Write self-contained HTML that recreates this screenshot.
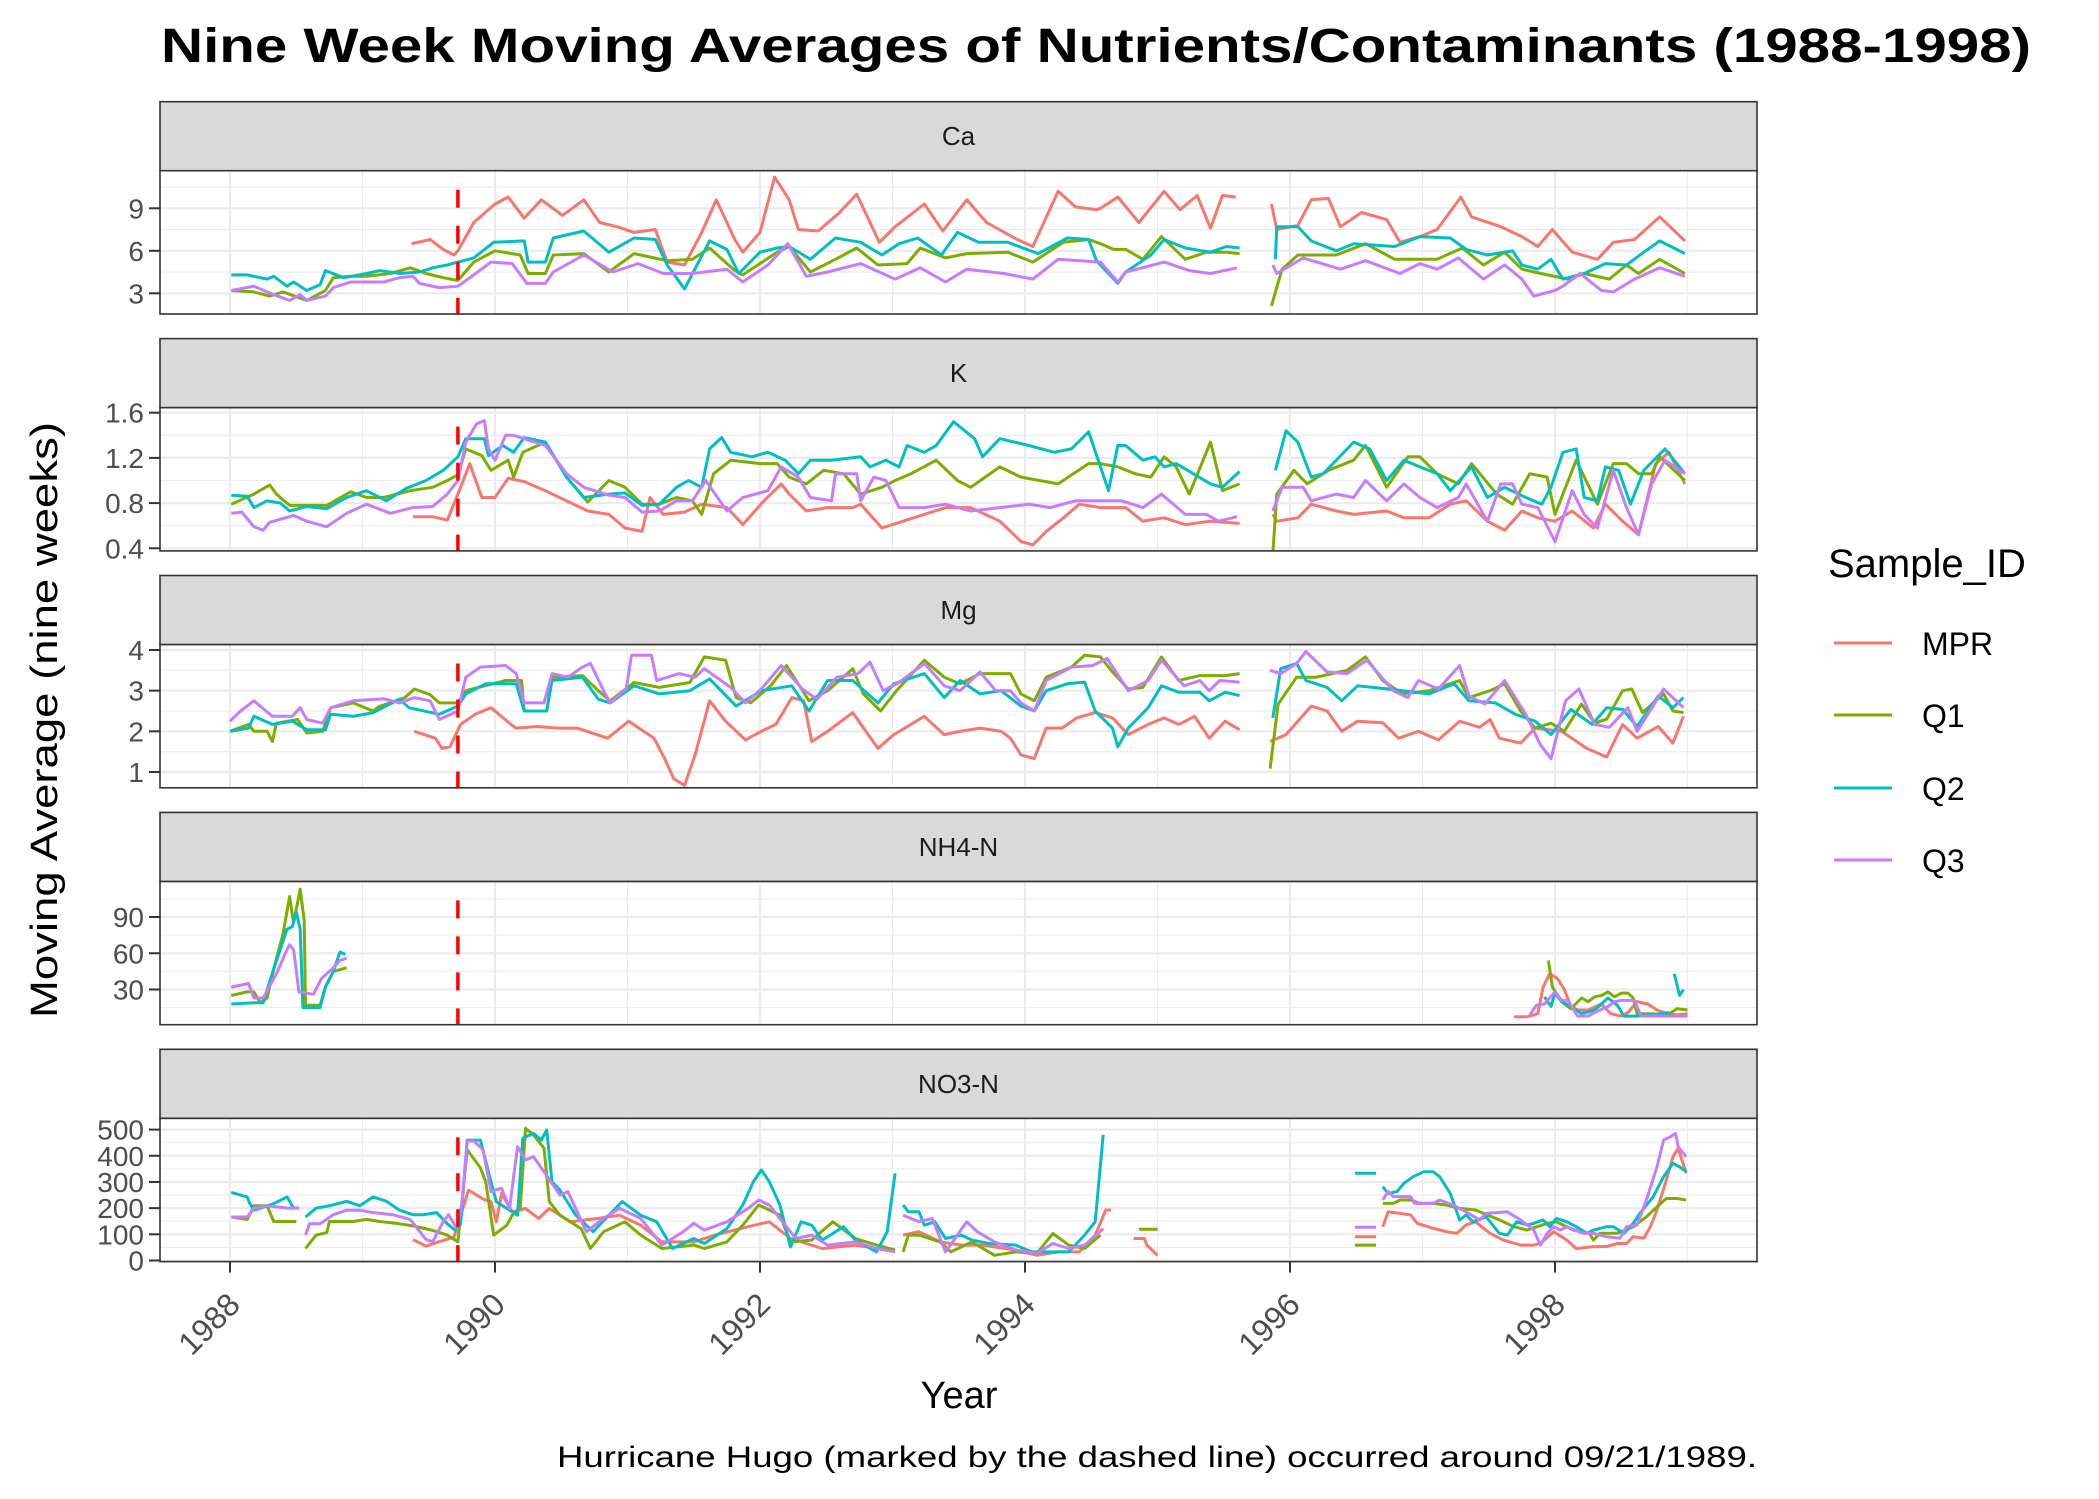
<!DOCTYPE html>
<html><head><meta charset="utf-8"><style>
html,body{margin:0;padding:0;background:#fff;}
svg{display:block;font-family:"Liberation Sans",Arial,sans-serif;}
</style></head><body>
<svg id="chart" width="2099" height="1499" viewBox="0 0 2099 1499" xmlns="http://www.w3.org/2000/svg">
<rect x="0" y="0" width="2099" height="1499" fill="#fff"/>
<text x="161" y="62" font-size="48" font-weight="bold" textLength="1870" lengthAdjust="spacingAndGlyphs">Nine Week Moving Averages of Nutrients/Contaminants (1988-1998)</text>
<text transform="translate(57,720) rotate(-90)" text-anchor="middle" font-size="38" textLength="596" lengthAdjust="spacingAndGlyphs">Moving Average (nine weeks)</text>
<text x="959" y="1408" text-anchor="middle" font-size="38">Year</text>
<text x="1757" y="1467" text-anchor="end" font-size="30" textLength="1200" lengthAdjust="spacingAndGlyphs">Hurricane Hugo (marked by the dashed line) occurred around 09/21/1989.</text>
<g id="panels"></g>
<g id="legend">
<text x="1828" y="577" font-size="40">Sample_ID</text>
<line x1="1834" y1="643" x2="1892" y2="643" stroke="#F8766D" stroke-width="3"/>
<text x="1922" y="655" font-size="32">MPR</text>
<line x1="1834" y1="715" x2="1892" y2="715" stroke="#7CAE00" stroke-width="3"/>
<text x="1922" y="727" font-size="32">Q1</text>
<line x1="1834" y1="788" x2="1892" y2="788" stroke="#00BFC4" stroke-width="3"/>
<text x="1922" y="800" font-size="32">Q2</text>
<line x1="1834" y1="860" x2="1892" y2="860" stroke="#C77CFF" stroke-width="3"/>
<text x="1922" y="872" font-size="32">Q3</text>
</g>
</svg>
<script>
const panelNames = ["Ca","K","Mg","NH4-N","NO3-N"];
const seriesNames = ["MPR","Q1","Q2","Q3"];
const seriesColors = ["#F8766D","#7CAE00","#00BFC4","#C77CFF"];
const xTickYears = [1988,1990,1992,1994,1996,1998];
const hugoYear = 1989.72;
const caTicks = [3,6,9];
const kTicks = [0.4,0.8,1.2,1.6];
const mgTicks = [1,2,3,4];
const nh4Ticks = [30,60,90];
const no3Ticks = [0,100,200,300,400,500];

const caMPR = [[1989.37,6.5],[1989.51,6.8],[1989.61,6.1],[1989.69,5.7],[1989.72,6.0],[1989.84,8.0],[1990.0,9.3],[1990.10,9.8],[1990.22,8.3],[1990.35,9.6],[1990.51,8.5],[1990.67,9.6],[1990.79,8.0],[1990.92,7.7],[1991.05,7.3],[1991.21,7.5],[1991.30,5.2],[1991.43,5.0],[1991.56,7.3],[1991.67,9.6],[1991.81,6.8],[1991.87,5.9],[1992.0,7.3],[1992.11,11.2],[1992.22,9.6],[1992.29,7.5],[1992.44,7.4],[1992.60,8.7],[1992.73,10.0],[1992.90,6.6],[1993.02,7.7],[1993.24,9.3],[1993.38,7.4],[1993.56,9.6],[1993.71,8.0],[1993.94,6.8],[1994.06,6.3],[1994.25,10.2],[1994.38,9.1],[1994.54,8.9],[1994.57,9.0],[1994.70,9.8],[1994.86,8.0],[1995.05,10.2],[1995.17,8.9],[1995.30,9.9],[1995.40,7.6],[1995.49,9.9],[1995.59,9.8],null,[1995.86,9.3],[1995.90,7.5],[1996.06,7.8],[1996.16,9.6],[1996.29,9.7],[1996.38,7.7],[1996.54,8.7],[1996.73,8.2],[1996.83,6.6],[1996.98,7.0],[1997.11,7.5],[1997.29,9.8],[1997.37,8.4],[1997.59,7.7],[1997.75,7.0],[1997.87,6.3],[1997.98,7.5],[1998.13,5.9],[1998.32,5.4],[1998.44,6.6],[1998.60,6.8],[1998.79,8.4],[1998.98,6.7]];
const caQ1 = [[1988.01,3.2],[1988.18,3.1],[1988.30,2.8],[1988.40,3.1],[1988.58,2.5],[1988.72,3.2],[1988.78,4.1],[1988.91,4.2],[1989.03,4.2],[1989.21,4.4],[1989.36,4.8],[1989.48,4.4],[1989.61,4.1],[1989.72,3.9],[1989.84,5.2],[1990.0,6.0],[1990.19,5.7],[1990.25,4.4],[1990.38,4.4],[1990.44,5.7],[1990.67,5.8],[1990.86,4.5],[1991.05,5.8],[1991.30,5.3],[1991.49,5.4],[1991.62,6.2],[1991.81,4.6],[1991.87,4.3],[1992.13,5.9],[1992.22,6.3],[1992.38,4.5],[1992.57,5.4],[1992.73,6.2],[1992.89,5.0],[1993.11,5.1],[1993.21,6.2],[1993.40,5.5],[1993.56,5.8],[1993.87,5.9],[1994.06,5.2],[1994.29,6.6],[1994.48,6.8],[1994.57,6.5],[1994.67,6.1],[1994.76,6.1],[1994.89,5.4],[1995.03,7.0],[1995.21,5.4],[1995.37,5.9],[1995.52,5.9],[1995.62,5.8],null,[1995.86,2.1],[1995.94,4.7],[1996.06,5.7],[1996.35,5.7],[1996.57,6.5],[1996.79,5.4],[1997.11,5.4],[1997.30,6.2],[1997.46,5.0],[1997.62,5.9],[1997.75,4.7],[1997.94,4.3],[1998.10,4.0],[1998.22,4.4],[1998.41,4.0],[1998.54,5.0],[1998.63,4.4],[1998.79,5.4],[1998.98,4.4]];
const caQ2 = [[1988.01,4.3],[1988.13,4.3],[1988.28,4.0],[1988.33,4.2],[1988.43,3.5],[1988.48,3.8],[1988.58,3.2],[1988.68,3.6],[1988.72,4.6],[1988.86,4.1],[1989.03,4.4],[1989.13,4.6],[1989.28,4.4],[1989.43,4.5],[1989.53,4.8],[1989.64,5.0],[1989.72,5.2],[1989.84,5.5],[1989.99,6.6],[1990.22,6.7],[1990.25,5.2],[1990.38,5.2],[1990.44,6.9],[1990.67,7.4],[1990.86,5.9],[1991.05,6.9],[1991.21,6.8],[1991.30,5.0],[1991.43,3.3],[1991.62,6.7],[1991.75,6.1],[1991.84,4.4],[1992.0,5.9],[1992.13,6.2],[1992.22,6.3],[1992.38,5.4],[1992.57,6.9],[1992.76,6.6],[1992.92,5.7],[1993.05,6.5],[1993.19,6.9],[1993.37,5.7],[1993.49,7.3],[1993.65,6.6],[1993.87,6.6],[1994.10,5.8],[1994.32,6.9],[1994.48,6.8],[1994.54,5.3],[1994.57,5.0],[1994.70,3.7],[1994.76,4.5],[1994.95,5.7],[1995.05,6.8],[1995.21,6.2],[1995.40,5.9],[1995.52,6.3],[1995.62,6.2],null,[1995.89,5.4],[1995.90,7.7],[1996.06,7.7],[1996.16,6.7],[1996.35,6.0],[1996.48,6.5],[1996.79,6.3],[1996.98,7.0],[1997.21,6.9],[1997.33,6.1],[1997.49,5.7],[1997.68,6.0],[1997.75,5.0],[1997.87,4.7],[1997.97,5.4],[1998.06,4.0],[1998.22,4.4],[1998.38,5.1],[1998.54,5.0],[1998.67,5.9],[1998.79,6.7],[1998.98,5.8]];
const caQ3 = [[1988.01,3.2],[1988.18,3.5],[1988.33,2.9],[1988.45,2.5],[1988.53,2.9],[1988.58,2.5],[1988.72,2.8],[1988.78,3.4],[1988.91,3.8],[1989.16,3.8],[1989.28,4.1],[1989.38,4.2],[1989.43,3.7],[1989.58,3.4],[1989.72,3.5],[1989.84,4.3],[1989.97,5.2],[1990.13,5.1],[1990.24,3.7],[1990.38,3.7],[1990.44,4.5],[1990.67,5.7],[1990.89,4.5],[1991.08,5.1],[1991.27,4.4],[1991.49,4.4],[1991.75,4.7],[1991.87,3.8],[1992.06,5.0],[1992.21,6.5],[1992.35,4.2],[1992.51,4.5],[1992.76,5.1],[1993.02,4.0],[1993.21,4.8],[1993.40,3.8],[1993.56,4.7],[1993.84,4.4],[1994.06,4.0],[1994.25,5.4],[1994.57,5.2],[1994.70,3.8],[1994.76,4.5],[1995.05,5.2],[1995.24,4.6],[1995.40,4.4],[1995.60,4.8],null,[1995.87,5.0],[1995.90,4.4],[1996.10,5.5],[1996.38,4.7],[1996.57,5.3],[1996.83,4.4],[1996.98,5.1],[1997.11,4.7],[1997.27,5.5],[1997.46,4.0],[1997.62,5.0],[1997.75,4.0],[1997.84,2.8],[1998.0,3.2],[1998.06,3.5],[1998.19,4.4],[1998.35,3.2],[1998.44,3.1],[1998.60,4.0],[1998.79,4.8],[1998.98,4.2]];

const kMPR = [[1989.38,0.68],[1989.53,0.68],[1989.64,0.65],[1989.72,0.88],[1989.81,1.15],[1989.90,0.85],[1990.0,0.85],[1990.10,1.02],[1990.22,0.99],[1990.38,0.91],[1990.54,0.82],[1990.70,0.73],[1990.86,0.70],[1990.98,0.58],[1991.11,0.55],[1991.17,0.85],[1991.27,0.70],[1991.43,0.72],[1991.56,0.79],[1991.75,0.76],[1991.87,0.61],[1992.03,0.82],[1992.16,0.97],[1992.22,0.88],[1992.35,0.73],[1992.51,0.76],[1992.70,0.76],[1992.76,0.79],[1992.92,0.58],[1993.08,0.64],[1993.24,0.70],[1993.40,0.76],[1993.59,0.76],[1993.81,0.64],[1993.97,0.46],[1994.06,0.43],[1994.16,0.55],[1994.29,0.67],[1994.41,0.79],[1994.57,0.76],[1994.76,0.76],[1994.89,0.64],[1995.05,0.67],[1995.21,0.61],[1995.40,0.64],[1995.62,0.62],null,[1995.87,0.70],[1995.90,0.64],[1996.06,0.67],[1996.16,0.79],[1996.35,0.73],[1996.48,0.70],[1996.73,0.73],[1996.86,0.67],[1997.05,0.67],[1997.21,0.79],[1997.33,0.82],[1997.49,0.64],[1997.62,0.56],[1997.75,0.73],[1997.87,0.67],[1998.0,0.64],[1998.13,0.73],[1998.29,0.58],[1998.38,0.79],[1998.51,0.64],[1998.63,0.52],[1998.76,1.15],[1998.86,1.25],[1998.98,0.97]];
const kQ1 = [[1988.01,0.79],[1988.18,0.88],[1988.30,0.96],[1988.35,0.88],[1988.45,0.78],[1988.73,0.78],[1988.91,0.9],[1989.03,0.85],[1989.16,0.85],[1989.36,0.91],[1989.53,0.94],[1989.64,1.0],[1989.72,1.05],[1989.78,1.28],[1989.90,1.22],[1989.97,1.09],[1990.10,1.18],[1990.14,1.03],[1990.21,1.25],[1990.38,1.34],[1990.54,1.03],[1990.70,0.81],[1990.86,1.0],[1990.98,0.94],[1991.11,0.79],[1991.24,0.79],[1991.37,0.85],[1991.49,0.82],[1991.56,0.70],[1991.65,1.06],[1991.78,1.18],[1992.0,1.15],[1992.13,1.15],[1992.22,1.03],[1992.35,0.97],[1992.48,1.09],[1992.63,1.06],[1992.76,0.88],[1992.92,0.94],[1993.02,1.0],[1993.14,1.06],[1993.33,1.18],[1993.49,1.0],[1993.59,0.94],[1993.81,1.12],[1993.97,1.03],[1994.25,0.97],[1994.48,1.15],[1994.57,1.15],[1994.70,1.12],[1994.83,1.06],[1994.95,1.03],[1995.05,1.21],[1995.14,1.12],[1995.24,0.88],[1995.40,1.34],[1995.49,0.91],[1995.62,0.97],null,[1995.87,0.35],[1995.90,0.88],[1996.03,1.09],[1996.13,0.97],[1996.29,1.09],[1996.48,1.18],[1996.57,1.31],[1996.73,0.94],[1996.89,1.21],[1996.98,1.21],[1997.11,1.06],[1997.27,0.97],[1997.37,1.15],[1997.56,0.88],[1997.68,0.79],[1997.81,1.06],[1997.94,1.03],[1998.0,0.70],[1998.06,0.88],[1998.16,1.18],[1998.32,0.79],[1998.44,1.15],[1998.54,1.15],[1998.63,1.06],[1998.73,1.06],[1998.79,1.21],[1998.98,1.0]];
const kQ2 = [[1988.01,0.87],[1988.13,0.86],[1988.18,0.76],[1988.28,0.82],[1988.38,0.8],[1988.45,0.73],[1988.58,0.77],[1988.73,0.75],[1988.88,0.85],[1989.03,0.91],[1989.18,0.82],[1989.33,0.93],[1989.48,1.0],[1989.61,1.09],[1989.72,1.21],[1989.78,1.37],[1989.92,1.37],[1989.95,1.22],[1990.06,1.31],[1990.14,1.25],[1990.22,1.38],[1990.38,1.34],[1990.54,1.03],[1990.67,0.85],[1990.86,0.88],[1990.98,0.89],[1991.11,0.78],[1991.24,0.79],[1991.37,0.94],[1991.46,1.0],[1991.56,0.94],[1991.62,1.28],[1991.71,1.38],[1991.78,1.25],[1991.94,1.21],[1992.06,1.25],[1992.19,1.18],[1992.29,1.06],[1992.38,1.18],[1992.54,1.18],[1992.76,1.21],[1992.83,1.12],[1992.95,1.18],[1993.05,1.12],[1993.11,1.31],[1993.24,1.25],[1993.33,1.31],[1993.46,1.52],[1993.62,1.37],[1993.68,1.21],[1993.81,1.37],[1994.03,1.31],[1994.22,1.25],[1994.35,1.28],[1994.48,1.43],[1994.57,1.12],[1994.63,0.91],[1994.70,1.31],[1994.76,1.31],[1994.89,1.18],[1994.98,1.21],[1995.05,1.12],[1995.14,1.15],[1995.27,1.06],[1995.40,0.97],[1995.49,0.94],[1995.62,1.08],null,[1995.89,1.09],[1995.97,1.44],[1996.06,1.34],[1996.16,1.03],[1996.25,1.06],[1996.35,1.18],[1996.48,1.34],[1996.60,1.28],[1996.73,1.0],[1996.86,1.18],[1996.98,1.12],[1997.11,1.06],[1997.21,0.91],[1997.37,1.12],[1997.49,0.85],[1997.62,0.94],[1997.78,0.85],[1997.90,0.79],[1997.97,0.94],[1998.06,1.25],[1998.16,1.28],[1998.22,0.85],[1998.32,0.82],[1998.38,1.12],[1998.48,1.09],[1998.57,0.79],[1998.67,1.09],[1998.83,1.28],[1998.98,1.06]];
const kQ3 = [[1988.01,0.71],[1988.09,0.72],[1988.18,0.59],[1988.25,0.56],[1988.30,0.63],[1988.48,0.69],[1988.58,0.64],[1988.73,0.59],[1988.88,0.71],[1989.03,0.79],[1989.21,0.71],[1989.38,0.76],[1989.53,0.77],[1989.64,0.88],[1989.72,1.0],[1989.78,1.34],[1989.86,1.5],[1989.92,1.53],[1989.95,1.28],[1990.0,1.18],[1990.08,1.4],[1990.14,1.4],[1990.22,1.37],[1990.38,1.31],[1990.54,1.06],[1990.67,0.94],[1990.86,0.87],[1990.98,0.85],[1991.11,0.72],[1991.24,0.73],[1991.37,0.82],[1991.49,0.82],[1991.59,1.0],[1991.75,0.73],[1991.87,0.85],[1992.06,0.91],[1992.16,1.12],[1992.29,1.03],[1992.38,0.85],[1992.54,0.82],[1992.57,1.06],[1992.73,1.06],[1992.76,0.82],[1992.86,1.03],[1992.95,1.0],[1993.05,0.76],[1993.24,0.76],[1993.40,0.79],[1993.59,0.73],[1993.81,0.76],[1994.03,0.79],[1994.19,0.76],[1994.38,0.82],[1994.57,0.82],[1994.73,0.82],[1994.89,0.76],[1995.03,0.88],[1995.21,0.70],[1995.37,0.70],[1995.46,0.64],[1995.60,0.68],null,[1995.87,0.73],[1995.94,0.94],[1996.10,0.94],[1996.16,0.82],[1996.35,0.88],[1996.48,0.85],[1996.57,1.0],[1996.73,0.82],[1996.86,0.97],[1996.98,0.85],[1997.11,0.76],[1997.27,0.85],[1997.33,0.97],[1997.49,0.64],[1997.59,0.97],[1997.68,0.97],[1997.75,0.79],[1997.87,0.76],[1998.0,0.46],[1998.13,0.91],[1998.22,0.70],[1998.32,0.58],[1998.44,1.09],[1998.54,0.76],[1998.63,0.52],[1998.73,0.97],[1998.83,1.18],[1998.98,1.06]];

const mgMPR = [[1989.39,2.0],[1989.55,1.83],[1989.60,1.58],[1989.66,1.62],[1989.74,2.17],[1989.85,2.42],[1989.97,2.58],[1990.12,2.17],[1990.16,2.08],[1990.32,2.12],[1990.47,2.08],[1990.62,2.08],[1990.85,1.83],[1991.01,2.25],[1991.20,1.83],[1991.28,1.33],[1991.35,0.83],[1991.43,0.67],[1991.51,1.42],[1991.62,2.75],[1991.74,2.25],[1991.89,1.79],[1992.01,2.0],[1992.12,2.17],[1992.24,2.83],[1992.33,2.75],[1992.39,1.75],[1992.51,2.0],[1992.70,2.46],[1992.89,1.58],[1993.01,1.92],[1993.24,2.37],[1993.39,1.92],[1993.51,2.0],[1993.66,2.08],[1993.82,2.0],[1993.89,1.83],[1993.97,1.42],[1994.07,1.33],[1994.16,2.08],[1994.28,2.08],[1994.39,2.33],[1994.53,2.46],[1994.66,2.33],[1994.78,1.92],[1994.93,2.17],[1995.05,2.33],[1995.16,2.17],[1995.28,2.37],[1995.39,1.83],[1995.51,2.25],[1995.62,2.04],null,[1995.85,1.75],[1995.97,1.92],[1996.16,2.62],[1996.28,2.5],[1996.39,2.0],[1996.51,2.25],[1996.70,2.21],[1996.82,1.83],[1996.97,2.0],[1997.12,1.79],[1997.28,2.25],[1997.43,2.1],[1997.51,2.29],[1997.58,1.83],[1997.74,1.71],[1997.85,2.08],[1998.05,2.0],[1998.24,1.58],[1998.39,1.37],[1998.51,2.17],[1998.62,1.83],[1998.78,2.12],[1998.89,1.71],[1998.97,2.37]];
const mgQ1 = [[1988.0,2.0],[1988.14,2.17],[1988.18,2.0],[1988.28,2.0],[1988.32,1.75],[1988.35,2.2],[1988.51,2.29],[1988.58,1.96],[1988.70,2.0],[1988.76,2.58],[1988.93,2.7],[1989.08,2.5],[1989.12,2.6],[1989.32,2.83],[1989.39,3.04],[1989.51,2.9],[1989.58,2.7],[1989.72,2.7],[1989.78,3.0],[1990.08,3.25],[1990.20,3.25],[1990.22,2.5],[1990.39,2.5],[1990.43,3.33],[1990.66,3.37],[1990.78,3.0],[1990.87,2.75],[1991.05,3.2],[1991.24,3.08],[1991.47,3.2],[1991.58,3.83],[1991.74,3.75],[1991.82,2.83],[1991.93,2.7],[1992.08,3.12],[1992.20,3.62],[1992.37,2.75],[1992.51,3.0],[1992.70,3.54],[1992.78,2.92],[1992.91,2.5],[1993.03,3.0],[1993.24,3.75],[1993.39,3.33],[1993.51,3.17],[1993.66,3.42],[1993.89,3.42],[1993.97,2.92],[1994.07,2.75],[1994.16,3.33],[1994.35,3.58],[1994.45,3.87],[1994.57,3.83],[1994.66,3.46],[1994.78,3.04],[1994.89,3.08],[1995.03,3.83],[1995.16,3.25],[1995.32,3.37],[1995.51,3.37],[1995.62,3.42],null,[1995.85,1.08],[1995.91,2.67],[1996.05,3.33],[1996.20,3.33],[1996.43,3.5],[1996.57,3.83],[1996.70,3.25],[1996.85,2.92],[1997.05,3.0],[1997.28,3.25],[1997.35,2.83],[1997.51,3.0],[1997.62,3.17],[1997.74,2.5],[1997.85,2.08],[1997.97,2.2],[1998.07,2.0],[1998.20,2.67],[1998.30,2.2],[1998.39,2.3],[1998.51,3.0],[1998.58,3.04],[1998.66,2.46],[1998.82,2.92],[1998.89,2.5],[1998.97,2.46]];
const mgQ2 = [[1988.0,2.0],[1988.14,2.08],[1988.18,2.37],[1988.32,2.17],[1988.47,2.25],[1988.58,2.04],[1988.72,2.04],[1988.76,2.42],[1988.93,2.37],[1989.08,2.46],[1989.28,2.79],[1989.35,2.58],[1989.58,2.42],[1989.72,2.62],[1989.78,2.92],[1989.93,3.17],[1990.16,3.17],[1990.22,2.5],[1990.39,2.5],[1990.43,3.25],[1990.66,3.33],[1990.78,2.79],[1990.87,2.7],[1991.05,3.12],[1991.24,2.92],[1991.47,3.0],[1991.62,3.29],[1991.82,2.62],[1992.01,3.0],[1992.24,3.12],[1992.37,2.5],[1992.51,3.25],[1992.70,3.25],[1992.89,2.7],[1993.01,3.17],[1993.24,3.42],[1993.39,2.83],[1993.51,3.25],[1993.66,2.92],[1993.82,3.0],[1993.97,2.62],[1994.07,2.5],[1994.16,3.0],[1994.32,3.17],[1994.45,3.21],[1994.53,2.5],[1994.66,2.08],[1994.70,1.62],[1994.78,2.08],[1994.93,2.58],[1995.03,3.12],[1995.16,2.96],[1995.32,2.96],[1995.39,2.75],[1995.51,2.96],[1995.62,2.88],null,[1995.87,2.33],[1995.93,3.54],[1996.05,3.67],[1996.12,3.25],[1996.28,3.08],[1996.39,2.75],[1996.51,3.12],[1996.74,3.04],[1997.05,2.92],[1997.24,3.17],[1997.35,2.75],[1997.55,2.7],[1997.70,2.42],[1997.85,2.25],[1997.97,1.92],[1998.12,2.54],[1998.28,2.17],[1998.39,2.58],[1998.51,2.54],[1998.62,2.12],[1998.78,2.87],[1998.89,2.58],[1998.97,2.83]];
const mgQ3 = [[1988.0,2.25],[1988.08,2.5],[1988.18,2.75],[1988.32,2.37],[1988.47,2.37],[1988.53,2.58],[1988.58,2.29],[1988.70,2.2],[1988.76,2.58],[1988.93,2.75],[1989.16,2.8],[1989.28,2.7],[1989.39,2.83],[1989.51,2.75],[1989.58,2.29],[1989.72,2.5],[1989.78,3.33],[1989.89,3.58],[1990.08,3.62],[1990.16,3.42],[1990.22,2.7],[1990.37,2.7],[1990.43,3.42],[1990.55,3.33],[1990.66,3.58],[1990.72,3.67],[1990.82,3.0],[1990.87,2.7],[1990.99,3.04],[1991.03,3.87],[1991.18,3.87],[1991.22,3.25],[1991.39,3.42],[1991.51,3.33],[1991.58,3.54],[1991.78,3.08],[1991.89,2.7],[1992.01,3.04],[1992.16,3.62],[1992.32,3.04],[1992.43,2.79],[1992.58,3.33],[1992.74,3.42],[1992.83,3.7],[1992.93,3.0],[1993.05,3.2],[1993.24,3.67],[1993.39,3.12],[1993.51,3.0],[1993.66,3.46],[1993.78,3.0],[1993.89,3.0],[1993.97,2.7],[1994.07,2.5],[1994.16,3.25],[1994.35,3.58],[1994.51,3.62],[1994.62,3.79],[1994.78,3.0],[1994.93,3.25],[1995.03,3.75],[1995.20,3.12],[1995.32,3.25],[1995.39,3.0],[1995.47,3.25],[1995.62,3.21],null,[1995.85,3.5],[1995.93,3.42],[1996.05,3.67],[1996.12,3.96],[1996.28,3.46],[1996.43,3.42],[1996.58,3.75],[1996.78,3.0],[1996.89,2.83],[1996.97,3.25],[1997.12,3.04],[1997.28,3.62],[1997.35,2.87],[1997.47,2.67],[1997.62,3.25],[1997.78,2.42],[1997.89,1.67],[1997.97,1.33],[1998.08,2.75],[1998.18,3.04],[1998.30,2.17],[1998.41,2.1],[1998.55,2.58],[1998.62,2.0],[1998.82,3.04],[1998.97,2.58]];

const nh4MPR = [[1997.69,7.5],[1997.79,7.5],[1997.87,10],[1997.91,32],[1997.96,43],[1998.02,39],[1998.07,30],[1998.12,16],[1998.17,13],[1998.25,13],[1998.35,18],[1998.42,10],[1998.50,8],[1998.55,11],[1998.62,20],[1998.70,18],[1998.77,13],[1998.85,10],[1998.92,9],[1999.0,10]];
const nh4Q1 = [[1988.01,25],[1988.13,28],[1988.18,28],[1988.23,19],[1988.28,23],[1988.33,47],[1988.40,76],[1988.45,107],[1988.48,85],[1988.53,113],[1988.56,87],[1988.57,17],[1988.68,17],[1988.72,32],[1988.78,45],[1988.88,48],null,[1997.95,54],[1997.98,32],[1998.05,20],[1998.12,14],[1998.20,23],[1998.25,20],[1998.30,24],[1998.35,25],[1998.40,28],[1998.45,24],[1998.50,27],[1998.55,27],[1998.59,23],[1998.62,10],[1998.72,10],[1998.85,9],[1998.92,14],[1999.0,13]];
const nh4Q2 = [[1988.01,18],[1988.18,19],[1988.25,19],[1988.33,47],[1988.43,80],[1988.47,82],[1988.50,94],[1988.53,80],[1988.55,15],[1988.68,15],[1988.72,32],[1988.78,45],[1988.83,61],[1988.87,59],null,[1997.92,24],[1997.97,16],[1998.0,27],[1998.05,20],[1998.12,16],[1998.20,10],[1998.30,13],[1998.40,23],[1998.47,17],[1998.52,8],[1998.62,8],[1998.80,10],[1998.86,11],null,[1998.90,43],[1998.94,25],[1998.97,30]];
const nh4Q3 = [[1988.01,32],[1988.14,35],[1988.18,23],[1988.25,23],[1988.35,43],[1988.43,63],[1988.45,67],[1988.48,63],[1988.52,28],[1988.63,26],[1988.69,39],[1988.78,48],[1988.83,54],[1988.88,56],null,[1997.81,9],[1997.86,17],[1997.92,18],[1998.0,28],[1998.05,21],[1998.10,21],[1998.17,8],[1998.25,8],[1998.30,11],[1998.40,16],[1998.45,20],[1998.50,21],[1998.60,21],[1998.65,8],[1998.80,8],[1999.0,8]];

const no3MPR = [[1989.38,80],[1989.48,55],[1989.58,72],[1989.69,89],[1989.80,269],[1989.91,235],[1989.97,225],[1990.01,148],[1990.05,256],[1990.13,186],[1990.23,199],[1990.33,161],[1990.41,199],[1990.57,148],[1990.78,161],[1990.94,173],[1991.10,135],[1991.26,71],[1991.50,71],[1991.66,97],[1991.91,129],[1992.07,148],[1992.23,84],[1992.47,46],[1992.72,59],[1992.96,40],null,[1993.08,97],[1993.20,110],[1993.36,71],[1993.52,59],[1993.68,59],[1993.93,40],[1994.09,20],[1994.25,33],[1994.41,33],[1994.53,97],[1994.61,193],[1994.65,193],null,[1994.82,84],[1994.90,84],[1994.92,59],[1995.0,20],null,[1996.49,91],[1996.65,91],null,[1996.70,129],[1996.74,186],[1996.83,180],[1996.91,174],[1996.96,142],[1997.08,123],[1997.18,110],[1997.26,104],[1997.33,136],[1997.40,148],[1997.51,104],[1997.61,78],[1997.74,59],[1997.84,59],[1997.89,65],[1997.99,110],[1998.09,78],[1998.16,46],[1998.29,53],[1998.39,53],[1998.47,65],[1998.54,65],[1998.59,91],[1998.67,85],[1998.72,129],[1998.77,193],[1998.84,307],[1998.89,396],[1998.93,428],[1998.99,333]];
const no3Q1 = [[1988.01,166],[1988.13,157],[1988.18,209],[1988.28,209],[1988.33,149],[1988.43,149],[1988.50,149],null,[1988.57,46],[1988.65,97],[1988.73,106],[1988.75,149],[1988.93,149],[1989.03,157],[1989.13,149],[1989.28,140],[1989.38,132],[1989.53,115],[1989.64,97],[1989.72,72],[1989.79,423],[1989.89,354],[1989.93,301],[1989.99,97],[1990.09,135],[1990.13,173],[1990.19,199],[1990.23,505],[1990.29,480],[1990.37,429],[1990.41,225],[1990.49,173],[1990.65,122],[1990.72,46],[1990.82,110],[1990.98,148],[1991.10,97],[1991.26,46],[1991.50,59],[1991.58,46],[1991.75,71],[1991.87,135],[1991.99,212],[1992.15,173],[1992.23,71],[1992.39,78],[1992.55,148],[1992.72,84],[1992.88,59],[1993.02,40],null,[1993.08,33],[1993.12,97],[1993.20,97],[1993.36,71],[1993.44,33],[1993.60,71],[1993.77,20],[1993.93,33],[1994.09,27],[1994.21,103],[1994.33,59],[1994.45,46],[1994.57,97],null,[1994.86,119],[1995.0,119],null,[1996.49,59],[1996.65,59],null,[1996.70,218],[1996.78,218],[1996.83,231],[1996.91,231],[1996.98,218],[1997.08,218],[1997.18,212],[1997.28,199],[1997.40,193],[1997.58,155],[1997.69,129],[1997.79,116],[1997.94,142],[1998.01,148],[1998.14,116],[1998.26,104],[1998.29,78],[1998.34,104],[1998.47,104],[1998.59,129],[1998.69,167],[1998.77,205],[1998.84,237],[1998.92,237],[1998.99,231]];
const no3Q2 = [[1988.01,260],[1988.13,243],[1988.15,217],[1988.18,192],[1988.33,217],[1988.43,243],[1988.48,200],[1988.52,200],null,[1988.57,166],[1988.65,200],[1988.75,209],[1988.88,226],[1988.98,209],[1989.08,243],[1989.18,226],[1989.28,192],[1989.38,175],[1989.46,175],[1989.56,183],[1989.64,140],[1989.70,115],[1989.74,140],[1989.79,460],[1989.89,460],[1989.97,301],[1990.01,225],[1990.09,199],[1990.17,173],[1990.21,467],[1990.29,486],[1990.35,460],[1990.39,499],[1990.43,301],[1990.49,269],[1990.61,173],[1990.74,110],[1990.86,173],[1990.96,225],[1991.10,173],[1991.22,148],[1991.34,46],[1991.50,84],[1991.58,65],[1991.75,122],[1991.87,212],[1991.95,301],[1992.01,346],[1992.07,301],[1992.15,212],[1992.23,51],[1992.31,148],[1992.39,135],[1992.47,78],[1992.63,129],[1992.72,78],[1992.88,33],[1992.96,110],[1993.02,333],null,[1993.08,212],[1993.12,186],[1993.20,186],[1993.24,135],[1993.32,148],[1993.40,84],[1993.52,97],[1993.60,78],[1993.73,65],[1993.93,59],[1994.05,33],[1994.17,33],[1994.33,33],[1994.45,97],[1994.53,148],[1994.59,480],null,[1996.49,333],[1996.65,333],null,[1996.70,282],[1996.74,256],[1996.81,264],[1996.86,295],[1996.93,320],[1997.01,339],[1997.08,339],[1997.13,320],[1997.21,256],[1997.28,155],[1997.33,174],[1997.38,148],[1997.48,167],[1997.58,104],[1997.64,97],[1997.71,148],[1997.79,136],[1997.84,142],[1997.91,155],[1997.96,129],[1998.01,161],[1998.09,148],[1998.16,129],[1998.24,104],[1998.29,116],[1998.39,129],[1998.44,129],[1998.52,104],[1998.59,142],[1998.64,180],[1998.74,243],[1998.82,320],[1998.89,371],[1998.94,358],[1998.99,339]];
const no3Q3 = [[1988.01,166],[1988.13,166],[1988.18,200],[1988.28,209],[1988.43,200],[1988.52,200],null,[1988.57,97],[1988.60,140],[1988.68,140],[1988.78,175],[1988.88,192],[1988.98,192],[1989.08,183],[1989.23,175],[1989.36,157],[1989.48,80],[1989.53,72],[1989.61,149],[1989.65,175],[1989.71,123],[1989.75,217],[1989.79,457],[1989.84,457],[1989.91,423],[1989.97,263],[1990.05,276],[1990.11,199],[1990.17,435],[1990.23,384],[1990.29,397],[1990.37,339],[1990.49,250],[1990.55,263],[1990.69,110],[1990.82,161],[1990.94,199],[1991.10,161],[1991.26,59],[1991.42,110],[1991.50,142],[1991.58,116],[1991.75,148],[1991.91,199],[1991.99,231],[1992.07,212],[1992.15,161],[1992.27,84],[1992.39,97],[1992.51,59],[1992.72,71],[1992.88,46],[1993.02,33],null,[1993.08,173],[1993.20,148],[1993.30,161],[1993.40,33],[1993.56,148],[1993.64,110],[1993.77,71],[1993.93,40],[1994.09,27],[1994.21,65],[1994.33,46],[1994.45,59],[1994.59,122],null,[1996.49,127],[1996.65,127],null,[1996.70,231],[1996.74,263],[1996.78,244],[1996.91,244],[1996.94,218],[1997.08,218],[1997.13,231],[1997.23,212],[1997.33,186],[1997.43,155],[1997.48,180],[1997.64,186],[1997.74,155],[1997.84,116],[1997.89,59],[1997.94,104],[1997.99,129],[1998.04,116],[1998.09,129],[1998.21,104],[1998.29,104],[1998.39,91],[1998.49,85],[1998.54,129],[1998.62,136],[1998.69,231],[1998.77,358],[1998.82,460],[1998.87,473],[1998.91,485],[1998.93,434],[1998.99,396]];

const panelSeries = [
  [caMPR, caQ1, caQ2, caQ3],
  [kMPR, kQ1, kQ2, kQ3],
  [mgMPR, mgQ1, mgQ2, mgQ3],
  [nh4MPR, nh4Q1, nh4Q2, nh4Q3],
  [no3MPR, no3Q1, no3Q2, no3Q3]
];
const panelTicks = [caTicks, kTicks, mgTicks, nh4Ticks, no3Ticks];

(function(){
  const NS = "http://www.w3.org/2000/svg";
  const root = document.getElementById("panels");
  const plotL = 160, plotR = 1757;
  const stripTop0 = 101.7, pitch = 236.9, stripH = 69, panelH = 212.3;
  const yCal = [[9,37.6,3,122.6],[1.6,5.1,0.4,140.7],[4,5.5,1,127.5],[90,35.6,30,108.1],[500,11.3,0,142.2]];
  function xScale(yr){ return 230 + (yr - 1988) * 132.5; }
  function mk(tag, attrs, parent){
    const e = document.createElementNS(NS, tag);
    for (const k in attrs) e.setAttribute(k, attrs[k]);
    parent.appendChild(e);
    return e;
  }
  const defs = mk("defs", {}, root);
  panelNames.forEach(function(name, p){
    const sTop = stripTop0 + p * pitch;
    const bTop = sTop + stripH;
    const bBot = sTop + panelH;
    const c = yCal[p];
    const bodyTop = bTop;
    function yScale(v){ return bodyTop + c[1] + (v - c[0]) * (c[3] - c[1]) / (c[2] - c[0]); }
    function inv(py){ return c[0] + (py - bodyTop - c[1]) * (c[2] - c[0]) / (c[3] - c[1]); }
    const g = mk("g", {}, root);
    
    
    const cp = mk("clipPath", {id: "clip" + p}, defs);
    mk("rect", {x: plotL, y: bTop, width: plotR - plotL, height: bBot - bTop}, cp);
    const bg = mk("rect", {x: plotL, y: bTop, width: plotR - plotL, height: bBot - bTop, fill: "#fff"}, g);
    
    
    const grid = mk("g", {"clip-path": "url(#clip" + p + ")"}, g);
    
    
    const ticks = panelTicks[p];
    const step = ticks[1] - ticks[0];
    const vTop = inv(bTop), vBot = inv(bBot);
    const vmin = Math.min(vTop, vBot), vmax = Math.max(vTop, vBot);
    for (let k = -5; k < 30; k++){
      const v = ticks[0] + (k - 0.5) * step;
      if (v > vmin && v < vmax){ mk("line", {x1: plotL, x2: plotR, y1: yScale(v), y2: yScale(v), stroke: "#ebebeb", "stroke-width": 1.1}, grid); }
    }
    for (let yr = 1987; yr <= 2000; yr += 2){
      const x = xScale(yr);
      if (x > plotL && x < plotR) mk("line", {x1: x, x2: x, y1: bTop, y2: bBot, stroke: "#ebebeb", "stroke-width": 1.1}, grid);
    }
    ticks.forEach(function(v){
      mk("line", {x1: plotL, x2: plotR, y1: yScale(v), y2: yScale(v), stroke: "#ebebeb", "stroke-width": 2.2}, grid);
    });
    xTickYears.forEach(function(yr){
      const x = xScale(yr);
      mk("line", {x1: x, x2: x, y1: bTop, y2: bBot, stroke: "#ebebeb", "stroke-width": 2.2}, grid);
    });
    const sg = mk("g", {"clip-path": "url(#clip" + p + ")"}, g);
    panelSeries[p].forEach(function(data, s){
      let d = "", pen = false;
      data.forEach(function(pt){
        if (pt === null){ pen = false; return; }
        d += (pen ? "L" : "M") + xScale(pt[0]).toFixed(1) + "," + yScale(pt[1]).toFixed(1);
        pen = true;
      });
      const path = mk("path", {d: d, fill: "none", stroke: seriesColors[s], "stroke-width": 3, "stroke-linejoin": "round"}, sg);
      
      
    });
    const hx = xScale(hugoYear);
    const hl = mk("line", {x1: hx, x2: hx, y1: bTop + 19, y2: bBot, stroke: "#ff0000", "stroke-width": 3.5, "stroke-dasharray": "18,18"}, g);
    
    
    mk("rect", {x: plotL, y: bTop, width: plotR - plotL, height: bBot - bTop, fill: "none", stroke: "#333", "stroke-width": 1.6}, g);
    const st = mk("rect", {x: plotL, y: sTop, width: plotR - plotL, height: stripH, fill: "#d9d9d9", stroke: "#333", "stroke-width": 1.6}, g);
    
    
    const stt = mk("text", {x: (plotL + plotR) / 2, y: sTop + stripH / 2 + 9, "text-anchor": "middle", "font-size": 26, fill: "#1a1a1a"}, g);
    stt.textContent = name;
    
    
    ticks.forEach(function(v){
      const y = yScale(v);
      mk("line", {x1: plotL - 11, x2: plotL, y1: y, y2: y, stroke: "#333", "stroke-width": 2}, g);
      const t = mk("text", {x: plotL - 16, y: y + 10, "text-anchor": "end", "font-size": 28, fill: "#4d4d4d"}, g);
      t.textContent = String(v);
      
      
    });
    if (p === panelNames.length - 1){
      xTickYears.forEach(function(yr){
        const x = xScale(yr);
        mk("line", {x1: x, x2: x, y1: bBot, y2: bBot + 11, stroke: "#333", "stroke-width": 2}, g);
        const t = mk("text", {transform: "translate(" + (x + 12) + "," + (bBot + 45) + ") rotate(-45)", "text-anchor": "end", "font-size": 32, fill: "#4d4d4d"}, g);
        t.textContent = String(yr);
        
        
      });
    }
  });
})();
</script>
</body></html>
